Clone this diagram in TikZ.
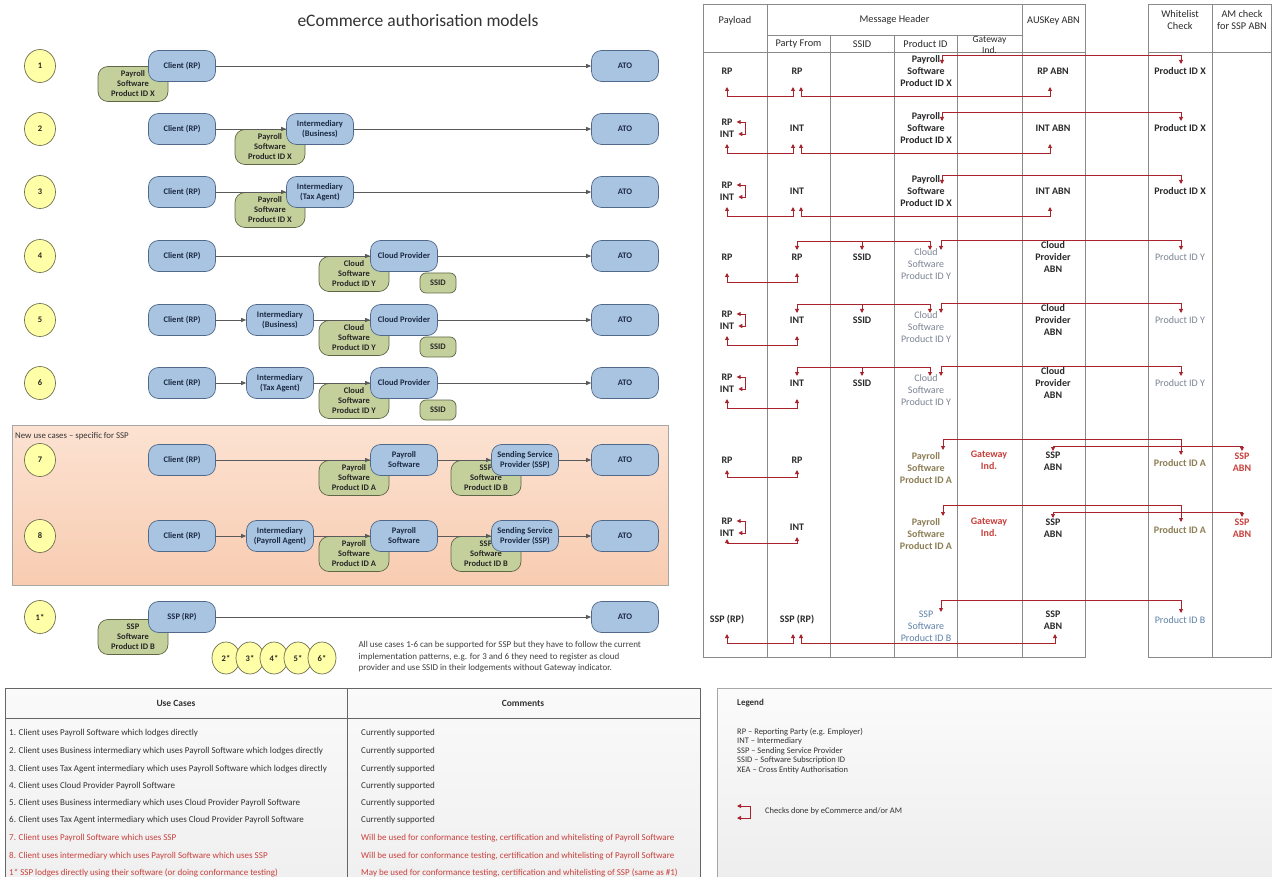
\documentclass[tikz,border=0pt]{standalone}
\usepackage{fontspec}
\setmainfont{Carlito}
\usetikzlibrary{positioning, calc, arrows.meta, shapes.geometric}

\definecolor{boxblue}{HTML}{A9C4E0}
\definecolor{boxblueline}{HTML}{50698A}
\definecolor{navyink}{HTML}{1C2A44}
\definecolor{softgreen}{HTML}{C4D09C}
\definecolor{softgreenline}{HTML}{5E6645}
\definecolor{dotyellow}{HTML}{FFFFA8}
\definecolor{dotline}{HTML}{6E6E50}
\definecolor{flowgrey}{HTML}{5A5A5A}
\definecolor{peachtop}{HTML}{FCE2D2}
\definecolor{peachbot}{HTML}{F8CCB1}
\definecolor{chkred}{HTML}{A8232B}
\definecolor{tabink}{HTML}{2A2A2A}
\definecolor{gridgrey}{HTML}{8A8A8A}
\definecolor{cloudgrey}{HTML}{7C8594}
\definecolor{prodolive}{HTML}{8C7E55}
\definecolor{sspblue}{HTML}{5E82A8}
\definecolor{warnred}{HTML}{C8403C}

\begin{document}
\begin{tikzpicture}[
    x=1pt, y=-1pt,
    >={Triangle[length=4pt, width=4pt]},
    % Styling
    box font/.style={font=\fontsize{8.5}{10}\selectfont\bfseries},
    % Style for parties (blue)
    party box/.style={
        draw=boxblueline, fill=boxblue, text=navyink,
        rounded corners=10pt, minimum width=67pt, minimum height=31pt,
        align=center, inner sep=1pt, box font, line width=0.7pt
    },
    % Style for software (green)
    soft box/.style={
        draw=softgreenline, fill=softgreen, text=black!85,
        rounded corners=10pt, minimum width=70pt, minimum height=35pt,
        align=center, inner sep=1pt, box font, line width=0.7pt
    },
    ssid box/.style={soft box, minimum width=36pt, minimum height=20pt, rounded corners=6pt},
    case dot/.style={
        ellipse, draw=dotline, fill=dotyellow, text=black!85,
        minimum width=31pt, minimum height=33pt, inner sep=0pt,
        box font, line width=0.7pt
    },
    flow/.style={-{Triangle[length=5pt, width=4pt]}, draw=flowgrey, line width=0.8pt},
    % Table styling
    grid line/.style={draw=gridgrey, line width=0.8pt},
    head text/.style={font=\fontsize{10.3}{12}\selectfont, align=center, text=tabink},
    cell/.style={font=\fontsize{10}{12}\selectfont\bfseries, align=center, inner sep=1pt, text=tabink},
    soft cell/.style={cell, font=\fontsize{10}{12}\selectfont},
    chk/.style={<->, draw=chkred, line width=0.9pt},
    chk down/.style={->, draw=chkred, line width=0.9pt},
    note text/.style={font=\fontsize{9}{11.5}\selectfont, align=left, text=black!75},
    row text/.style={font=\fontsize{9}{10.5}\selectfont, anchor=west, text=black!80, inner sep=0pt}
]

\fill[white] (0,0) rectangle (1272,877);
\useasboundingbox (0,0) rectangle (1272,877);

% --- Title ---
\node[font=\fontsize{17.5}{20}\selectfont, text=black!80] (title) at (418,20) {eCommerce authorisation models};

% --- Use case 1 ---
\node[case dot] (dot-1) at (40,66) {1};
\node[soft box] (sw-1) at (133,84) {Payroll\\Software\\Product ID X};
\node[party box] (rp-1) at (182,66) {Client (RP)};
\node[party box] (ato-1) at (625,66) {ATO};
\draw[flow] (rp-1) -- (ato-1);

% --- Use cases 2 and 3 (intermediary) ---
\foreach \n/\y/\kind in {2/129/Business, 3/192/Tax Agent} {
    \node[case dot] (dot-\n) at (40,\y) {\n};
    \node[soft box] (sw-\n) at (270,\y+18) {Payroll\\Software\\Product ID X};
    \node[party box] (rp-\n) at (182,\y) {Client (RP)};
    \node[party box] (int-\n) at (320,\y) {Intermediary\\(\kind)};
    \node[party box] (ato-\n) at (625,\y) {ATO};
    \draw[flow] (rp-\n) -- (int-\n);
    \draw[flow] (int-\n) -- (ato-\n);
}

% --- Use cases 4 to 6 (cloud provider) ---
\foreach \n/\y/\kind in {4/256/none, 5/320/Business, 6/383/Tax Agent} {
    \node[case dot] (dot-\n) at (40,\y) {\n};
    \node[soft box] (sw-\n) at (354,\y+18) {Cloud\\Software\\Product ID Y};
    \node[ssid box] (ssid-\n) at (438,\y+27) {SSID};
    \node[party box] (rp-\n) at (182,\y) {Client (RP)};
    \node[party box] (cp-\n) at (404,\y) {Cloud Provider};
    \node[party box] (ato-\n) at (625,\y) {ATO};
    \ifnum\n=4
        \draw[flow] (rp-\n) -- (cp-\n);
    \else
        \node[party box] (int-\n) at (280,\y) {Intermediary\\(\kind)};
        \draw[flow] (rp-\n) -- (int-\n);
        \draw[flow] (int-\n) -- (cp-\n);
    \fi
    \draw[flow] (cp-\n) -- (ato-\n);
}

% --- New use cases for SSP ---
\draw[draw=gray!70, line width=0.8pt, top color=peachtop, bottom color=peachbot] (12,425) rectangle (668,585);
\node[row text, font=\fontsize{8.8}{10}\selectfont] (ssp-title) at (15,436) {New use cases – specific for SSP};

\foreach \n/\y in {7/460, 8/536} {
    \node[case dot] (dot-\n) at (40,\y) {\n};
    \node[soft box] (sw-\n) at (354,\y+18) {Payroll\\Software\\Product ID A};
    \node[soft box] (ssw-\n) at (486,\y+18) {SSP\\Software\\Product ID B};
    \node[party box] (rp-\n) at (182,\y) {Client (RP)};
    \node[party box] (ps-\n) at (404,\y) {Payroll\\Software};
    \node[party box] (ssp-\n) at (525,\y) {Sending Service\\Provider (SSP)};
    \node[party box] (ato-\n) at (625,\y) {ATO};
    \ifnum\n=7
        \draw[flow] (rp-\n) -- (ps-\n);
    \else
        \node[party box] (int-\n) at (280,\y) {Intermediary\\(Payroll Agent)};
        \draw[flow] (rp-\n) -- (int-\n);
        \draw[flow] (int-\n) -- (ps-\n);
    \fi
    \draw[flow] (ps-\n) -- (ssp-\n);
    \draw[flow] (ssp-\n) -- (ato-\n);
}

% --- Use case 1* ---
\node[case dot] (dot-9) at (40,617) {1*};
\node[soft box] (sw-9) at (133,637) {SSP\\Software\\Product ID B};
\node[party box] (rp-9) at (182,617) {SSP (RP)};
\node[party box] (ato-9) at (625,617) {ATO};
\draw[flow] (rp-9) -- (ato-9);

\foreach \k [count=\i from 0] in {2,...,6}
    \node[case dot, minimum width=28pt, minimum height=32pt] (star-\k) at (226+24*\i,658) {\k*};

\node[note text, anchor=west] (ssp-remark) at (355,657) {All use cases 1-6 can be supported for SSP but they have to follow the current\\implementation patterns, e.g. for 3 and 6 they need to register as cloud\\provider and use SSID in their lodgements without Gateway indicator.};

% --- Check table: grid ---
\draw[grid line] (703,4) rectangle (1085,657);
\draw[grid line] (703,52) -- (1085,52);
\draw[grid line] (767,35) -- (1022,35);
\foreach \x in {767, 1022} \draw[grid line] (\x,4) -- (\x,657);
\foreach \x in {830, 894, 957} \draw[grid line] (\x,35) -- (\x,657);
\draw[grid line] (1148,4) rectangle (1271.5,657);
\draw[grid line] (1148,52) -- (1271.5,52);
\draw[grid line] (1212,4) -- (1212,657);

% --- Check table: headers ---
\node[head text] (h-payload) at (735,21) {Payload};
\node[head text] (h-header) at (894.5,20) {Message Header};
\node[head text] (h-abn) at (1053.5,21) {AUSKey ABN};
\node[head text] (h-party) at (798.5,44) {Party From};
\node[head text] (h-ssid) at (862,44) {SSID};
\node[head text] (h-pid) at (925.5,44) {Product ID};
\node[head text, font=\fontsize{9.5}{11}\selectfont] (h-gw) at (989.5,45) {Gateway\\Ind.};
\node[head text] (h-wl) at (1180,20) {Whitelist\\Check};
\node[head text] (h-am) at (1242,20) {AM check\\for SSP ABN};

% --- Rows for use cases 1-3 ---
\foreach \r/\y/\who/\abn in {a/71/RP/RP ABN, b/128/INT/INT ABN, c/191/INT/INT ABN} {
    \node[cell] (pf-\r) at (797,\y) {\who};
    \node[cell] (pid-\r) at (926,\y) {Payroll\\Software\\Product ID X};
    \node[cell] (abn-\r) at (1053,\y) {\abn};
    \node[cell] (wl-\r) at (1180,\y) {Product ID X};
    \draw[chk] ($(pid-\r)+(16,-7)$) -- ++(0,-9) -| ($(wl-\r)+(1,-7)$);
    \draw[chk] ($(pf-\r)+(4,16)$) -- ++(0,9) -| ($(abn-\r)+(-3,16)$);
}
\node[cell] (pl-a) at (727,71) {RP};
\draw[chk] ($(pf-a)+(-4,16)$) -- ++(0,9) -| ($(pl-a)+(0,16)$);
\foreach \r/\y in {b/128, c/191} {
    \node[cell] (pl-\r1) at (727,\y-6) {RP};
    \node[cell] (pl-\r2) at (727,\y+6) {INT};
    \draw[chk] ($(pl-\r1.east)+(3,0)$) -- ++(9,0) |- ($(pl-\r2.east)+(3,0)$);
    \draw[chk] ($(pf-\r)+(-4,16)$) -- ++(0,9) -| ($(pl-\r2)+(0,10)$);
}

% --- Rows for use cases 4-6 ---
\foreach \r/\y/\who in {d/257/RP, e/320/INT, f/383/INT} {
    \node[cell] (pf-\r) at (797,\y) {\who};
    \node[cell] (sid-\r) at (862,\y) {SSID};
    \node[soft cell, text=cloudgrey] (pid-\r) at (926,\y+7) {Cloud\\Software\\Product ID Y};
    \node[cell] (abn-\r) at (1053,\y) {Cloud\\Provider\\ABN};
    \node[soft cell, text=cloudgrey] (wl-\r) at (1180,\y) {Product ID Y};
    \draw[chk] ($(pf-\r)+(0,-7)$) -- ++(0,-9) -| ($(pid-\r)+(4,-14)$);
    \draw[chk down] ($(sid-\r)+(0,-16)$) -- ($(sid-\r)+(0,-7)$);
    \draw[chk] ($(pid-\r)+(15,-14)$) -- ++(0,-10) -| ($(wl-\r)+(1,-7)$);
}
\node[cell] (pl-d) at (727,257) {RP};
\draw[chk] ($(pf-d)+(0,16)$) -- ++(0,9) -| ($(pl-d)+(0,16)$);
\foreach \r/\y in {e/320, f/383} {
    \node[cell] (pl-\r1) at (727,\y-6) {RP};
    \node[cell] (pl-\r2) at (727,\y+6) {INT};
    \draw[chk] ($(pl-\r1.east)+(3,0)$) -- ++(9,0) |- ($(pl-\r2.east)+(3,0)$);
    \draw[chk] ($(pf-\r)+(0,16)$) -- ++(0,9) -| ($(pl-\r2)+(0,10)$);
}

% --- Rows for use cases 7 and 8 ---
\node[cell] (pl-g) at (727,460) {RP};
\node[cell] (pf-g) at (797,460) {RP};
\node[cell, text=prodolive] (pid-g) at (926,468) {Payroll\\Software\\Product ID A};
\node[cell, text=warnred] (gw-g) at (989,460) {Gateway\\Ind.};
\node[cell] (abn-g) at (1053,461) {SSP\\ABN};
\node[cell, text=prodolive] (wl-g) at (1180,463) {Product ID A};
\node[cell, text=warnred] (am-g) at (1242,462) {SSP\\ABN};
\draw[chk] ($(pid-g)+(17,-18)$) -- ++(0,-11) -| ($(wl-g)+(1,-8)$);
\draw[chk] ($(abn-g)+(0,-10)$) -- ++(0,-5) -| ($(am-g)+(0,-11)$);
\draw[chk] ($(pf-g)+(0,10)$) -- ++(0,7) -| ($(pl-g)+(0,10)$);

\node[cell] (pl-h1) at (727,521) {RP};
\node[cell] (pl-h2) at (727,533) {INT};
\node[cell] (pf-h) at (797,527) {INT};
\node[cell, text=prodolive] (pid-h) at (926,534) {Payroll\\Software\\Product ID A};
\node[cell, text=warnred] (gw-h) at (989,527) {Gateway\\Ind.};
\node[cell] (abn-h) at (1053,528) {SSP\\ABN};
\node[cell, text=prodolive] (wl-h) at (1180,530) {Product ID A};
\node[cell, text=warnred] (am-h) at (1242,528) {SSP\\ABN};
\draw[chk] ($(pid-h)+(17,-18)$) -- ++(0,-11) -| ($(wl-h)+(1,-8)$);
\draw[chk] ($(abn-h)+(0,-10)$) -- ++(0,-6) -| ($(am-h)+(0,-11)$);
\draw[chk] ($(pl-h1.east)+(3,0)$) -- ++(9,0) |- ($(pl-h2.east)+(3,0)$);
\draw[chk] ($(pf-h)+(0,10)$) -- ++(0,6) -| ($(pl-h2)+(0,6)$);

% --- Row for use case 1* ---
\node[cell] (pl-i) at (727,620) {SSP (RP)};
\node[cell] (pf-i) at (797,620) {SSP (RP)};
\node[soft cell, text=sspblue] (pid-i) at (926,626) {SSP\\Software\\Product ID B};
\node[cell] (abn-i) at (1053,620) {SSP\\ABN};
\node[soft cell, text=sspblue] (wl-i) at (1180,620) {Product ID B};
\draw[chk] ($(pid-i)+(15,-14)$) -- ++(0,-12) -| ($(wl-i)+(1,-7)$);
\draw[chk] ($(pf-i)+(-4,14)$) -- ++(0,9) -| ($(pl-i)+(0,14)$);
\draw[chk] ($(pf-i)+(4,14)$) -- ++(0,9) -| ($(abn-i)+(2,14)$);

% --- Use case table ---
\draw[draw=black!60, line width=0.8pt, top color=gray!4, bottom color=gray!12] (5,688) rectangle (700,880);
\draw[draw=black!60, line width=0.8pt] (5,718) -- (700,718);
\draw[draw=black!60, line width=0.8pt] (347,688) -- (347,880);
\node[font=\fontsize{9.5}{11}\selectfont\bfseries, text=black!80] (uc-head) at (176,703) {Use Cases};
\node[font=\fontsize{9.5}{11}\selectfont\bfseries, text=black!80] (cm-head) at (523,703) {Comments};

\node[row text] (uc-1) at (9,733) {1. Client uses Payroll Software which lodges directly};
\node[row text] (uc-2) at (9,751) {2. Client uses Business intermediary which uses Payroll Software which lodges directly};
\node[row text] (uc-3) at (9,769) {3. Client uses Tax Agent intermediary which uses Payroll Software which lodges directly};
\node[row text] (uc-4) at (9,786) {4. Client uses Cloud Provider Payroll Software};
\node[row text] (uc-5) at (9,803) {5. Client uses Business intermediary which uses Cloud Provider Payroll Software};
\node[row text] (uc-6) at (9,820) {6. Client uses Tax Agent intermediary which uses Cloud Provider Payroll Software};
\node[row text, text=warnred] (uc-7) at (9,838) {7. Client uses Payroll Software which uses SSP};
\node[row text, text=warnred] (uc-8) at (9,856) {8. Client uses intermediary which uses Payroll Software which uses SSP};
\node[row text, text=warnred] (uc-9) at (9,873) {1* SSP lodges directly using their software (or doing conformance testing)};

\foreach \i/\y in {1/733, 2/751, 3/769, 4/786, 5/803, 6/820}
    \node[row text] (cm-\i) at (361,\y) {Currently supported};
\node[row text, text=warnred] (cm-7) at (361,838) {Will be used for conformance testing, certification and whitelisting of Payroll Software};
\node[row text, text=warnred] (cm-8) at (361,856) {Will be used for conformance testing, certification and whitelisting of Payroll Software};
\node[row text, text=warnred] (cm-9) at (361,873) {May be used for conformance testing, certification and whitelisting of SSP (same as \#1)};

% --- Legend ---
\draw[draw=gray!70, line width=0.8pt, top color=gray!3, bottom color=gray!14] (717,688) rectangle (1280,880);
\node[row text, font=\fontsize{9}{10}\selectfont\bfseries] (legend) at (737,703) {Legend};
\node[row text, align=left, font=\fontsize{8.5}{9.5}\selectfont] (abbrev) at (737,751) {RP – Reporting Party (e.g. Employer)\\INT – Intermediary\\SSP – Sending Service Provider\\SSID – Software Subscription ID\\XEA – Cross Entity Authorisation};
\coordinate (key-top) at (737,806);
\coordinate (key-bot) at (737,818);
\draw[chk] (key-top) -- ++(13,0) |- (key-bot);
\node[row text, font=\fontsize{8.5}{10}\selectfont] (key-text) at (765,811) {Checks done by eCommerce and/or AM};

\end{tikzpicture}
\end{document}
